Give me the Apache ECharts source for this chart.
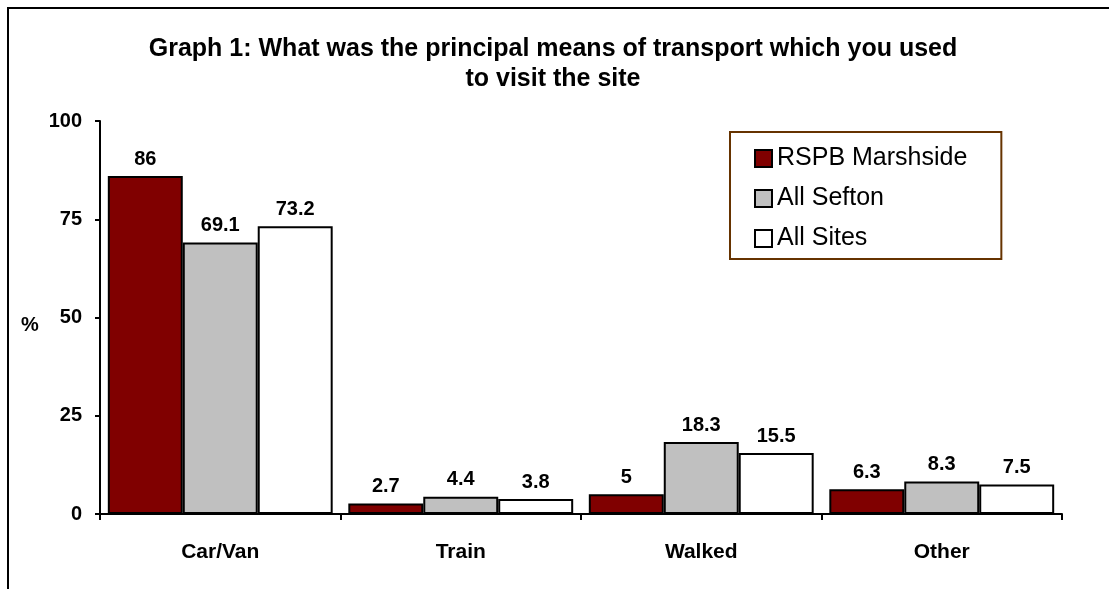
<!DOCTYPE html>
<html>
<head>
<meta charset="utf-8">
<script src="https://cdn.jsdelivr.net/npm/echarts@6/dist/echarts.min.js"></script>
<style>
  html, body { margin: 0; padding: 0; background: #fff; }
  #chart { width: 1109px; height: 589px; }
</style>
</head>
<body>
<div id="chart"></div>
<script>
const categories = ['Car/Van', 'Train', 'Walked', 'Other']
const seriesNames = ['RSPB Marshside', 'All Sefton', 'All Sites']
const marshside = [86, 2.7, 5, 6.3]
const allSefton = [69.1, 4.4, 18.3, 8.3]
const allSites = [73.2, 3.8, 15.5, 7.5]
const yTicks = [0, 25, 50, 75, 100]

const colors = ['#800000', '#c0c0c0', '#ffffff']
const font = 'Arial, "Liberation Sans", sans-serif'

const chart = echarts.init(document.getElementById('chart'))

const makeSeries = (name, data, color) => ({
  name: name,
  type: 'bar',
  data: data,
  barGap: '0%',
  barCategoryGap: '6.5%',
  itemStyle: {
    color: color,
    borderColor: '#000',
    borderWidth: 2
  },
  label: {
    show: true,
    position: 'top',
    distance: 7,
    color: '#000',
    fontWeight: 'bold',
    fontSize: 20,
    fontFamily: font
  }
})

const option = {
  animation: false,
  backgroundColor: '#fff',
  title: {
    text: 'Graph 1: What was the principal means of transport which you used\nto visit the site',
    left: 548,
    top: 29,
    textAlign: 'center',
    textStyle: {
      fontFamily: font,
      fontWeight: 'bold',
      fontSize: 25,
      lineHeight: 30,
      color: '#000'
    }
  },
  legend: {
    orient: 'vertical',
    left: 730,
    top: 132,
    padding: [14, 34, 8, 24],
    itemGap: 15,
    itemWidth: 17,
    itemHeight: 17,
    icon: 'rect',
    borderColor: '#663300',
    borderWidth: 2,
    backgroundColor: '#fff',
    textStyle: {
      fontFamily: font,
      fontSize: 25,
      lineHeight: 25,
      color: '#000'
    },
    data: seriesNames
  },
  grid: {
    left: 100,
    right: 47,
    top: 121,
    bottom: 75
  },
  xAxis: {
    type: 'category',
    data: categories,
    axisLine: { lineStyle: { color: '#000', width: 2 } },
    axisTick: { show: true, length: 6, lineStyle: { color: '#000', width: 2 } },
    axisLabel: {
      color: '#000',
      fontWeight: 'bold',
      fontSize: 21,
      fontFamily: font,
      margin: 28
    }
  },
  yAxis: {
    type: 'value',
    min: 0,
    max: 100,
    interval: 25,
    axisLine: { show: true, lineStyle: { color: '#000', width: 2 } },
    axisTick: { show: true, length: 5, lineStyle: { color: '#000', width: 2 } },
    splitLine: { show: false },
    axisLabel: {
      color: '#000',
      fontWeight: 'bold',
      fontSize: 20,
      fontFamily: font,
      margin: 18,
      formatter: v => (yTicks.includes(v) ? String(v) : '')
    }
  },
  graphic: [
    {
      type: 'rect',
      silent: true,
      z: -1,
      shape: { x: 8, y: 8, width: 1200, height: 700 },
      style: { fill: null, stroke: '#000', lineWidth: 2 }
    },
    {
      type: 'text',
      silent: true,
      x: 30,
      y: 325,
      style: {
        text: '%',
        fill: '#000',
        font: 'bold 20px ' + font,
        align: 'center',
        verticalAlign: 'middle'
      }
    }
  ],
  series: [
    makeSeries(seriesNames[0], marshside, colors[0]),
    makeSeries(seriesNames[1], allSefton, colors[1]),
    makeSeries(seriesNames[2], allSites, colors[2])
  ]
}

chart.setOption(option)
</script>
</body>
</html>
